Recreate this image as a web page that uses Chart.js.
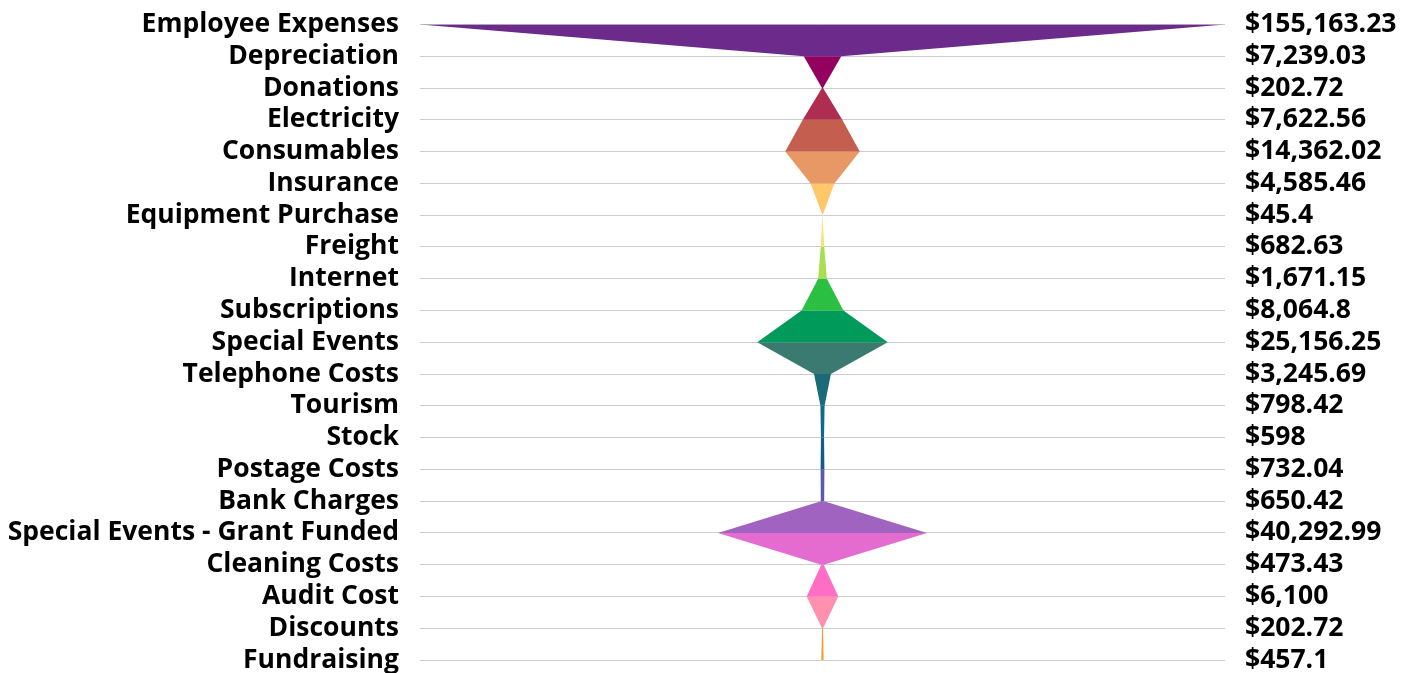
<!DOCTYPE html>
<html>
<head>
<meta charset="utf-8">
<script src="https://cdn.jsdelivr.net/npm/chart.js@4.4.1/dist/chart.umd.min.js"></script>
<style>
  html, body { margin: 0; padding: 0; background: #fff; }
  #wrap { width: 1414px; height: 673px; }
</style>
</head>
<body>
<div id="wrap"><canvas id="funnel"></canvas></div>
<script>
// Expense categories, top to bottom
const categories = [
    'Employee Expenses', 'Depreciation', 'Donations', 'Electricity', 'Consumables',
    'Insurance', 'Equipment Purchase', 'Freight', 'Internet', 'Subscriptions',
    'Special Events', 'Telephone Costs', 'Tourism', 'Stock', 'Postage Costs',
    'Bank Charges', 'Special Events - Grant Funded', 'Cleaning Costs', 'Audit Cost',
    'Discounts', 'Fundraising'
];
const amounts = [
    155163.23, 7239.03, 202.72, 7622.56, 14362.02,
    4585.46, 45.4, 682.63, 1671.15, 8064.8,
    25156.25, 3245.69, 798.42, 598, 732.04,
    650.42, 40292.99, 473.43, 6100, 202.72,
    457.1
];
// colour of the band that starts at each category
const bandColors = [
    '#6c2b8a', '#930060', '#b02d52', '#c45f50', '#e89865',
    '#ffc66a', '#f6e27a', '#a6e050', '#2cc042', '#009a5a',
    '#3a7a70', '#1a6a78', '#0d6a8a', '#145a8c', '#5a5aaa',
    '#a064c0', '#e46cd0', '#ff6ec4', '#ff90b0', '#f0a030'
];

const maxAmount = Math.max(...amounts);
const money = v => '$' + v.toLocaleString('en-US', { maximumFractionDigits: 2 });

// one closed band per pair of neighbouring rows
const datasets = [];
for (let i = 0; i < amounts.length - 1; i++) {
    const a = amounts[i] / 2, b = amounts[i + 1] / 2;
    datasets.push({
        data: [{ x: -a, y: i }, { x: a, y: i }, { x: b, y: i + 1 }, { x: -b, y: i + 1 }],
        showLine: true,
        fill: 'shape',
        backgroundColor: bandColors[i],
        borderColor: 'rgba(0,0,0,0)',
        borderWidth: 0,
        pointRadius: 0,
        tension: 0,
    });
}

const labelFont = { family: 'Open Sans', size: 26.5, weight: 'bold' };

// fixed side widths, no extra padding from the labels
const fitSide = width => s => {
    s.width = width;
    s.paddingTop = 0;
    s.paddingBottom = 0;
};

new Chart(document.getElementById('funnel'), {
    type: 'scatter',
    data: { datasets },
    options: {
        responsive: true,
        maintainAspectRatio: false,
        animation: false,
        layout: { padding: { top: 24.5, bottom: 13, left: 0, right: 0 } },
        plugins: { legend: { display: false }, tooltip: { enabled: false } },
        scales: {
            x: { type: 'linear', display: false, min: -maxAmount / 2, max: maxAmount / 2 },
            y: {
                type: 'linear', position: 'left', reverse: true,
                min: 0, max: categories.length - 1,
                border: { display: false },
                grid: { color: '#cccccc', lineWidth: 1, drawTicks: false },
                ticks: {
                    stepSize: 1, autoSkip: false, padding: 21, color: '#000',
                    font: labelFont,
                    callback: v => categories[v],
                },
                afterFit: fitSide(420),
            },
            y2: {
                type: 'linear', position: 'right', reverse: true,
                min: 0, max: categories.length - 1,
                border: { display: false },
                grid: { display: false, drawTicks: false },
                ticks: {
                    stepSize: 1, autoSkip: false, padding: 20, color: '#000',
                    font: labelFont,
                    callback: v => money(amounts[v]),
                },
                afterFit: fitSide(189),
            },
        },
    },
});
</script>
</body>
</html>
